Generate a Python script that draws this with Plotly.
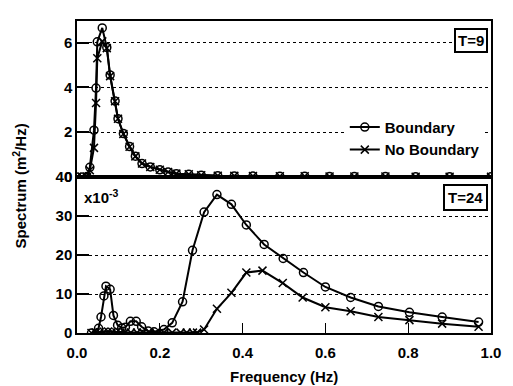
import plotly.graph_objects as go

# ---- data ----
t9_freq = [0.0, 0.012, 0.024, 0.031, 0.041, 0.046, 0.049, 0.061, 0.072, 0.080, 0.092, 0.099,
           0.112, 0.127, 0.141, 0.157, 0.177, 0.2, 0.22, 0.24, 0.27, 0.3, 0.34, 0.38, 0.425,
           0.49, 0.55, 0.61, 0.67, 0.745, 0.818, 0.9, 1.0]
t9_boundary = [0, 0, 0.02, 0.43, 2.09, 3.97, 6.03, 6.65, 5.78, 4.55, 3.39, 2.6, 1.94, 1.36,
               0.93, 0.6, 0.45, 0.32, 0.22, 0.15, 0.12, 0.08, 0.06, 0.05, 0.04, 0.03, 0.03,
               0.02, 0.02, 0.02, 0.01, 0.01, 0.01]
t9_noboundary = [0, 0, 0.01, 0.3, 1.3, 3.3, 5.3, 6.05, 5.75, 4.5, 3.38, 2.6, 1.92, 1.35,
                 0.92, 0.6, 0.45, 0.32, 0.22, 0.15, 0.12, 0.08, 0.06, 0.05, 0.04, 0.03, 0.03,
                 0.02, 0.02, 0.02, 0.01, 0.01, 0.01]

t24_freq_b = [0.035, 0.052, 0.058, 0.065, 0.07, 0.08, 0.088, 0.098, 0.108, 0.117, 0.129, 0.143,
              0.156, 0.172, 0.186, 0.21, 0.23, 0.255, 0.279, 0.307, 0.338, 0.373, 0.409, 0.452,
              0.498, 0.547, 0.6, 0.661, 0.728, 0.803, 0.882, 0.97]
t24_boundary = [0, 1.2, 4.1, 9.5, 12, 11.2, 4.5, 2, 1.3, 1.5, 3, 3, 1.6, 0.5, 0.3, 0.9, 2.6, 8,
                21.2, 31, 35.5, 33, 27.7, 22.7, 19.1, 15.5, 11.8, 9.1, 6.8, 5.3, 4.1, 2.8]
t24_freq_nb = [0.035, 0.045, 0.055, 0.065, 0.075, 0.085, 0.095, 0.105, 0.115, 0.13, 0.145, 0.16,
               0.175, 0.19, 0.21, 0.23, 0.25, 0.265, 0.28, 0.29, 0.307, 0.338, 0.373, 0.409,
               0.448, 0.497, 0.545, 0.6, 0.661, 0.728, 0.803, 0.882, 0.97]
t24_noboundary = [0, 0.1, 0.2, 0.3, 0.4, 0.3, 0.2, 0.1, 0.1, 0.1, 0.1, 0.1, 0.1, 0.1, 0.1, 0.1,
                  0.1, 0.1, 0.1, 0.1, 0.9, 6.2, 10.3, 15.5, 16, 12.8, 9.1, 6.6, 5.6, 4.1, 3.3,
                  2.4, 1.6]

x_ticks = [0.0, 0.2, 0.4, 0.6, 0.8, 1.0]
x_ticklabels = ["0.0", "0.2", "0.4", "0.6", "0.8", "1.0"]
top_yticks = [0, 2, 4, 6]
bottom_yticks = [0, 10, 20, 30, 40]

FONT = "Liberation Sans, Arial, sans-serif"
line = dict(color="black", width=2)
circ = dict(symbol="circle-open", size=8, color="black", line=dict(width=1.5))
cross = dict(symbol="x-thin-open", size=8, color="black", line=dict(width=1.5, color="black"))

fig = go.Figure()
fig.add_trace(go.Scatter(x=t9_freq, y=t9_boundary, mode="lines+markers", name="Boundary",
                         line=line, marker=circ, xaxis="x", yaxis="y"))
fig.add_trace(go.Scatter(x=t9_freq, y=t9_noboundary, mode="lines+markers", name="No Boundary",
                         line=line, marker=cross, xaxis="x", yaxis="y"))
fig.add_trace(go.Scatter(x=t24_freq_b, y=t24_boundary, mode="lines+markers", showlegend=False,
                         line=line, marker=circ, xaxis="x2", yaxis="y2"))
fig.add_trace(go.Scatter(x=t24_freq_nb, y=t24_noboundary, mode="lines+markers", showlegend=False,
                         line=line, marker=cross, xaxis="x2", yaxis="y2"))

tickfont = dict(family=FONT, size=15, color="black", weight="bold")
common_x = dict(range=[0, 1.0], showgrid=False, zeroline=False, showline=True, linecolor="black",
                linewidth=1.5, mirror=True, ticks="inside", ticklen=10, tickwidth=1.2,
                tickcolor="black", tickvals=x_ticks, ticktext=x_ticklabels, tickfont=tickfont)
common_y = dict(showgrid=True, gridcolor="black", griddash="dot", gridwidth=0.8, zeroline=False,
                showline=True, linecolor="black", linewidth=1.5, mirror=True, ticks="inside",
                ticklen=12, tickwidth=1.5, tickcolor="black", tickfont=tickfont)

fig.update_layout(
    width=513, height=386,
    margin=dict(l=77, r=13, t=13, b=53),
    paper_bgcolor="white", plot_bgcolor="white",
    font=dict(family=FONT, color="black"),
    xaxis=dict(common_x, anchor="y", showticklabels=False, ticks=""),
    yaxis=dict(common_y, domain=[0.5, 1.0], range=[0, 6.96], tickvals=top_yticks,
               ticktext=[str(v) for v in top_yticks], anchor="x"),
    xaxis2=dict(common_x, anchor="y2", matches="x", ticklabelstandoff=5),
    yaxis2=dict(common_y, domain=[0.0, 0.5], range=[0, 40], tickvals=bottom_yticks,
                ticktext=[str(v) for v in bottom_yticks], anchor="x2"),
    legend=dict(x=0.985, xanchor="right", y=0.712, yanchor="top", bgcolor="white",
                font=dict(family=FONT, size=15, color="black", weight="bold"),
                tracegroupgap=0, itemwidth=30),
    showlegend=True,
)

fig.add_annotation(text="T=9", xref="paper", yref="paper", x=0.993, y=0.978, xanchor="right",
                   yanchor="top", showarrow=False, bgcolor="white", bordercolor="black",
                   borderwidth=2, borderpad=2,
                   font=dict(family=FONT, size=15, color="black", weight="bold"))
fig.add_annotation(text="T=24", xref="paper", yref="paper", x=0.993, y=0.478, xanchor="right",
                   yanchor="top", showarrow=False, bgcolor="white", bordercolor="black",
                   borderwidth=2, borderpad=3,
                   font=dict(family=FONT, size=15, color="black", weight="bold"))
fig.add_annotation(text="x10<sup>-3</sup>", xref="paper", yref="paper", x=0.012, y=0.475,
                   xanchor="left", yanchor="top", showarrow=False,
                   font=dict(family=FONT, size=15, color="black", weight="bold"))
fig.add_annotation(text="Frequency (Hz)", xref="paper", yref="paper", x=0.5, y=-0.14,
                   xanchor="center", yanchor="middle", showarrow=False,
                   font=dict(family=FONT, size=15, color="black", weight="bold"))
fig.add_annotation(text="Spectrum (m<sup>2</sup>/Hz)", xref="paper", yref="paper", x=-0.14,
                   y=0.47, xanchor="center", yanchor="middle", textangle=-90, showarrow=False,
                   font=dict(family=FONT, size=15, color="black", weight="bold"))

fig.write_html("out.html")
